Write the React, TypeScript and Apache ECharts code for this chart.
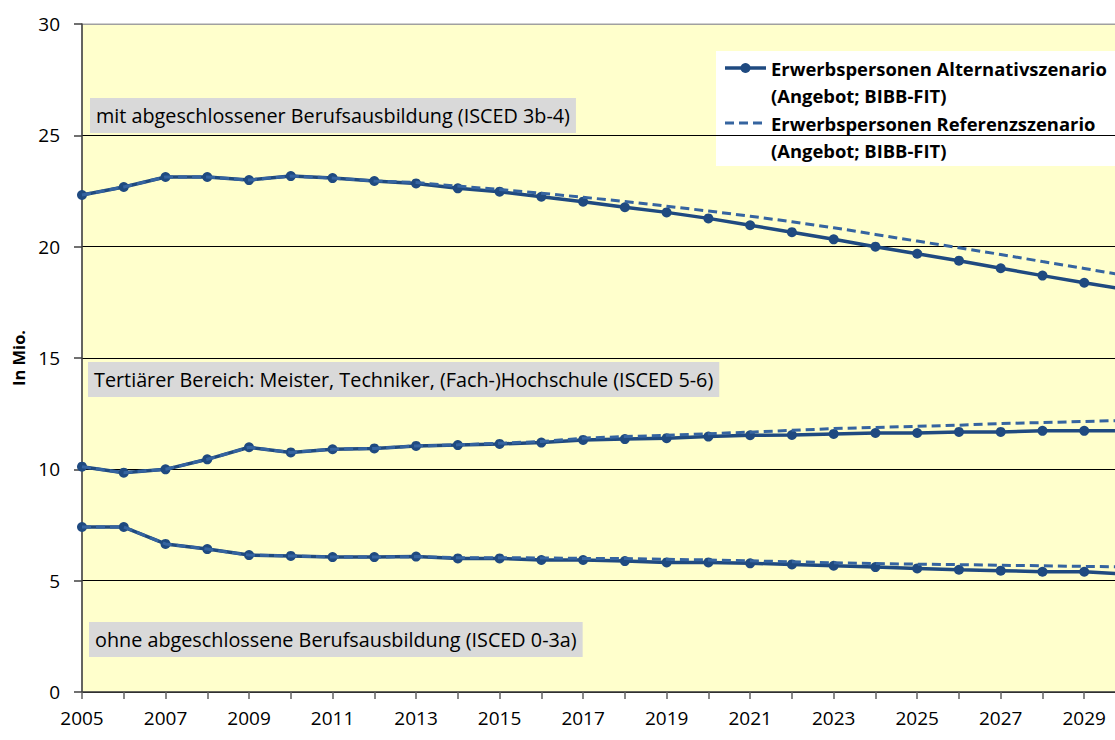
import React, { useEffect, useRef } from "react";
import * as echarts from "echarts";

const years = [
  "2005", "2006", "2007", "2008", "2009", "2010", "2011", "2012", "2013",
  "2014", "2015", "2016", "2017", "2018", "2019", "2020", "2021", "2022",
  "2023", "2024", "2025", "2026", "2027", "2028", "2029", "2030",
];

// mit abgeschlossener Berufsausbildung
const altUpper = [22.32, 22.68, 23.13, 23.13, 22.99, 23.17, 23.08, 22.95, 22.84, 22.62, 22.47, 22.24, 22.02, 21.77, 21.54, 21.27, 20.96, 20.65, 20.33, 20.0, 19.68, 19.37, 19.03, 18.7, 18.38, 18.08];
const refUpper = [22.32, 22.68, 23.13, 23.13, 22.99, 23.17, 23.08, 22.95, 22.88, 22.72, 22.57, 22.4, 22.22, 22.03, 21.82, 21.6, 21.37, 21.12, 20.85, 20.55, 20.25, 19.95, 19.65, 19.33, 19.02, 18.7];
// Tertiärer Bereich
const altMid = [10.12, 9.85, 10.0, 10.45, 10.99, 10.76, 10.9, 10.94, 11.05, 11.09, 11.14, 11.2, 11.32, 11.36, 11.4, 11.47, 11.53, 11.54, 11.59, 11.63, 11.63, 11.68, 11.68, 11.73, 11.73, 11.74];
const refMid = [10.12, 9.85, 10.0, 10.45, 10.99, 10.76, 10.9, 10.94, 11.05, 11.1, 11.17, 11.25, 11.4, 11.47, 11.53, 11.6, 11.67, 11.75, 11.83, 11.88, 11.93, 11.98, 12.06, 12.1, 12.15, 12.2];
// ohne abgeschlossene Berufsausbildung
const altLow = [7.41, 7.41, 6.65, 6.42, 6.15, 6.11, 6.06, 6.06, 6.08, 6.0, 6.0, 5.93, 5.93, 5.88, 5.82, 5.82, 5.78, 5.73, 5.67, 5.61, 5.55, 5.49, 5.45, 5.4, 5.4, 5.3];
const refLow = [7.41, 7.41, 6.65, 6.42, 6.15, 6.11, 6.06, 6.06, 6.08, 6.03, 6.03, 6.02, 6.0, 5.99, 5.96, 5.93, 5.89, 5.85, 5.8, 5.77, 5.74, 5.72, 5.69, 5.67, 5.64, 5.62];

const altName = "Erwerbspersonen Alternativszenario";
const refName = "Erwerbspersonen Referenzszenario";
const sourceLine = "(Angebot; BIBB-FIT)";
const yTitle = "In Mio.";
const labelUpper = "mit abgeschlossener Berufsausbildung (ISCED 3b-4)";
const labelMid = "Tertiärer Bereich: Meister, Techniker, (Fach-)Hochschule (ISCED 5-6)";
const labelLow = "ohne abgeschlossene Berufsausbildung (ISCED 0-3a)";

const SOLID = "#1f4a80";
const DASH = "#3564a0";
const FONT = '"Open Sans", "DejaVu Sans", sans-serif';

export default function App() {
  const ref = useRef<HTMLDivElement>(null);
  useEffect(() => {
    if (!ref.current) return;
    const chart = echarts.init(ref.current, null, { renderer: "svg" });
    const solid = (data: number[]) => ({
      type: "line",
      name: altName,
      data,
      symbol: "circle",
      symbolSize: 10,
      itemStyle: { color: SOLID },
      lineStyle: { color: SOLID, width: 3.5 },
      z: 3,
    });
    const dashed = (data: number[]) => ({
      type: "line",
      name: refName,
      data,
      showSymbol: false,
      symbol: "none",
      lineStyle: { color: DASH, width: 3, type: [9, 5] },
      z: 4,
    });
    const annotation = (text: string, x: number, y: number) => ({
      type: "text",
      x,
      y,
      z: 10,
      style: {
        text,
        fill: "#000",
        font: `19.8px ${FONT}`,
        verticalAlign: "top",
        backgroundColor: "#d9d9d9",
        padding: [5, 6, 5, 6],
        lineHeight: 25,
      },
    });
    const legendFont = `bold 18.4px ${FONT}`;
    chart.setOption({
      animation: false,
      backgroundColor: "#ffffff",
      textStyle: { fontFamily: FONT },
      grid: {
        left: 82,
        top: 24,
        bottom: 48,
        right: 34,
        show: true,
        backgroundColor: "#ffffcc",
        borderColor: "#a0a0a0",
        borderWidth: 1,
      },
      xAxis: {
        type: "category",
        data: years,
        boundaryGap: false,
        axisLine: { lineStyle: { color: "#404040", width: 1.5 } },
        axisTick: { show: true, interval: 0, length: 7, lineStyle: { color: "#606060", width: 1.5 } },
        axisLabel: { interval: 1, color: "#000", fontSize: 19, margin: 16, fontFamily: FONT },
        splitLine: { show: false },
      },
      yAxis: {
        type: "value",
        min: 0,
        max: 30,
        interval: 5,
        name: yTitle,
        nameLocation: "middle",
        nameGap: 55,
        nameTextStyle: { fontSize: 16.5, fontWeight: "bold", color: "#000", fontFamily: FONT },
        axisLine: { show: true, lineStyle: { color: "#404040", width: 1.5 } },
        axisTick: { show: true, length: 8, lineStyle: { color: "#404040", width: 1.5 } },
        axisLabel: { color: "#000", fontSize: 19, margin: 22, fontFamily: FONT },
        splitLine: {
          show: true,
          lineStyle: {
            color: ["#000", "#000", "#000", "#000", "#000", "#000", "#a0a0a0"],
            width: 1,
          },
        },
      },
      series: [
        solid(altUpper),
        solid(altMid),
        solid(altLow),
        dashed(refUpper),
        dashed(refMid),
        dashed(refLow),
      ],
      graphic: [
        annotation(labelUpper, 90, 98),
        annotation(labelMid, 88, 362),
        annotation(labelLow, 89, 622),
        {
          type: "group",
          z: 20,
          children: [
            { type: "rect", shape: { x: 716, y: 51, width: 460, height: 115 }, style: { fill: "#ffffff" } },
            { type: "line", shape: { x1: 725, y1: 68, x2: 766, y2: 68 }, style: { stroke: SOLID, lineWidth: 3.5 } },
            { type: "circle", shape: { cx: 745.5, cy: 68, r: 5 }, style: { fill: SOLID } },
            { type: "text", x: 771, y: 68, style: { text: altName, fill: "#000", font: legendFont, verticalAlign: "middle" } },
            { type: "text", x: 771, y: 95, style: { text: sourceLine, fill: "#000", font: legendFont, verticalAlign: "middle" } },
            { type: "line", shape: { x1: 725, y1: 123, x2: 766, y2: 123 }, style: { stroke: DASH, lineWidth: 3, lineDash: [9, 5] } },
            { type: "text", x: 771, y: 123, style: { text: refName, fill: "#000", font: legendFont, verticalAlign: "middle" } },
            { type: "text", x: 771, y: 150, style: { text: sourceLine, fill: "#000", font: legendFont, verticalAlign: "middle" } },
          ],
        },
      ],
    });
    return () => chart.dispose();
  }, []);
  return (
    <div
      style={{
        position: "fixed",
        left: 0,
        top: 0,
        width: 1115,
        height: 740,
        overflow: "hidden",
        background: "#ffffff",
      }}
    >
      <div ref={ref} style={{ width: 1160, height: 740 }} />
    </div>
  );
}
